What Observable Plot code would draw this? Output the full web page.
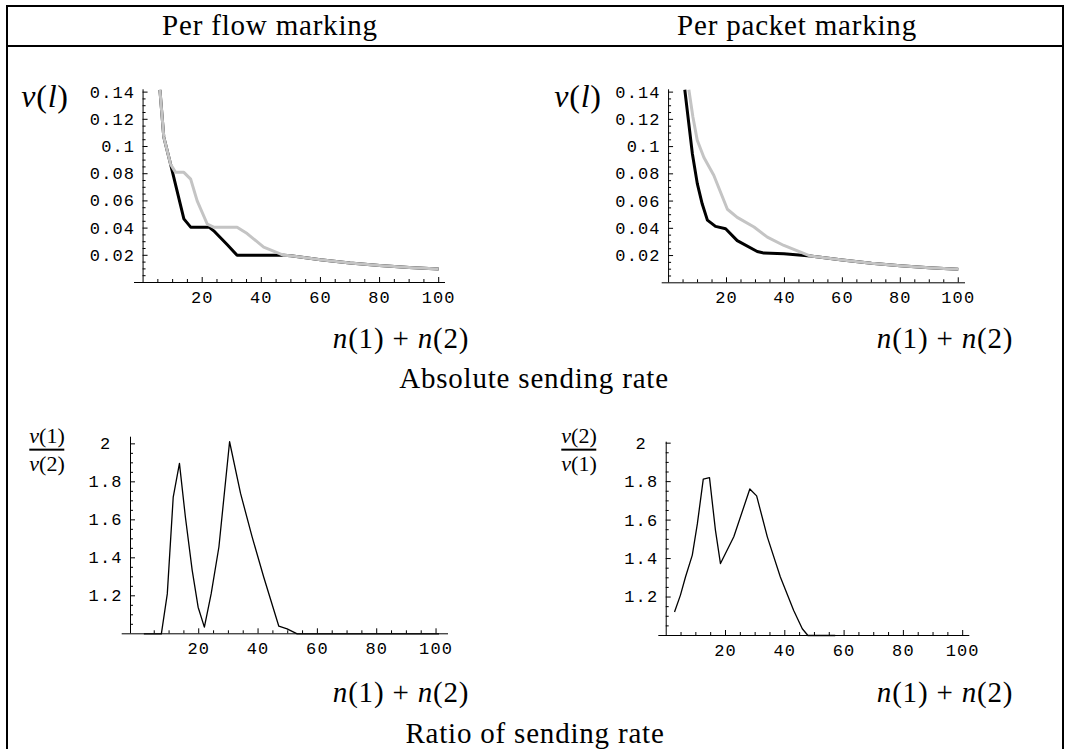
<!DOCTYPE html>
<html><head><meta charset="utf-8">
<script src="https://cdn.jsdelivr.net/npm/d3@7"></script>
<script src="https://cdn.jsdelivr.net/npm/@observablehq/plot@0.6"></script>
<style>
body{margin:0;background:#fff;}
#page{position:relative;width:1065px;height:749px;overflow:hidden;background:#fff;}
.box{position:absolute;left:6px;top:5px;width:1058px;height:800px;border:2px solid #000;box-sizing:border-box;}
.sep{position:absolute;left:6px;top:45px;width:1058px;height:2px;background:#000;}
.t{position:absolute;font-family:"Liberation Serif",serif;color:#000;white-space:nowrap;line-height:1;transform:translate(-50%,-50%);font-size:29px;letter-spacing:0.8px;}
.t i{font-style:italic;}
.frac{position:absolute;transform:translate(-50%,-50%);display:flex;flex-direction:column;align-items:center;font-family:"Liberation Serif",serif;font-size:22px;line-height:1.05;}
.frac .bar{width:100%;height:1.5px;background:#000;margin:2px 0 1px 0;}
.frac i{font-style:italic;}
.pw{position:absolute;}
</style></head>
<body><div id="page">
<div class="box"></div><div class="sep"></div>
<div id="p1" class="pw"></div><div id="p2" class="pw"></div><div id="p3" class="pw"></div><div id="p4" class="pw"></div>
<div class="t" style="left:270px;top:25px">Per flow marking</div>
<div class="t" style="left:797px;top:25px">Per packet marking</div>
<div class="t" style="left:45px;top:96px;font-size:32px"><i>ν</i>(<i>l</i>)</div>
<div class="t" style="left:578px;top:96px;font-size:32px"><i>ν</i>(<i>l</i>)</div>
<div class="t" style="left:401px;top:338px"><i>n</i>(1) + <i>n</i>(2)</div>
<div class="t" style="left:945px;top:338px"><i>n</i>(1) + <i>n</i>(2)</div>
<div class="t" style="left:534px;top:378px">Absolute sending rate</div>
<div class="frac" style="left:47px;top:449px"><div><i>ν</i>(1)</div><div class="bar"></div><div><i>ν</i>(2)</div></div>
<div class="frac" style="left:579px;top:449px"><div><i>ν</i>(2)</div><div class="bar"></div><div><i>ν</i>(1)</div></div>
<div class="t" style="left:401px;top:692px"><i>n</i>(1) + <i>n</i>(2)</div>
<div class="t" style="left:945px;top:692px"><i>n</i>(1) + <i>n</i>(2)</div>
<div class="t" style="left:535px;top:733px">Ratio of sending rate</div>
</div>
<script>
// ---- tick values and labels ----
const xMajor = [20, 40, 60, 80, 100];
const xMajorLabels = ["20", "40", "60", "80", "100"];
const xMinor = [5, 10, 15, 25, 30, 35, 45, 50, 55, 65, 70, 75, 85, 90, 95];
const absMajor = [0.02, 0.04, 0.06, 0.08, 0.1, 0.12, 0.14];
const absLabels = ["0.02", "0.04", "0.06", "0.08", "0.1", "0.12", "0.14"];
const absMinor = [0.005, 0.01, 0.015, 0.025, 0.03, 0.035, 0.045, 0.05, 0.055, 0.065, 0.07, 0.075, 0.085, 0.09, 0.095, 0.105, 0.11, 0.115, 0.125, 0.13, 0.135];
const ratioMajor = [1.2, 1.4, 1.6, 1.8, 2];
const ratioLabels = ["1.2", "1.4", "1.6", "1.8", "2\u00a0"];
const ratioMinor = [1.05, 1.1, 1.15, 1.25, 1.3, 1.35, 1.45, 1.5, 1.55, 1.65, 1.7, 1.75, 1.85, 1.9, 1.95];

// ---- Per flow marking: absolute sending rate ----
const flowBlackN = [5.7, 7.0, 9.3, 13.8, 16.1, 22.3, 23.9, 28.5, 31.8, 47.6, 50, 60, 70, 80, 90, 100];
const flowBlackV = [0.1417, 0.107, 0.087, 0.0468, 0.0407, 0.0407, 0.038, 0.0277, 0.0200, 0.0200, 0.0196, 0.0167, 0.0143, 0.0125, 0.0111, 0.0100];
const flowGrayN = [5.7, 7.0, 9.3, 11.0, 13.8, 16.1, 18.3, 21.7, 23.9, 31.8, 35.2, 40.8, 47.6, 50, 60, 70, 80, 90, 100];
const flowGrayV = [0.1417, 0.107, 0.087, 0.081, 0.081, 0.076, 0.060, 0.043, 0.0407, 0.0407, 0.036, 0.026, 0.0200, 0.0196, 0.0167, 0.0143, 0.0125, 0.0111, 0.0100];

// ---- Per packet marking: absolute sending rate ----
const pktBlackN = [5.6, 8.2, 9.9, 11.6, 13.4, 16.2, 19.7, 23.7, 30.6, 32.9, 39.8, 49, 60, 70, 80, 90, 100];
const pktBlackV = [0.1417, 0.095, 0.073, 0.058, 0.046, 0.0414, 0.0397, 0.031, 0.023, 0.0218, 0.0213, 0.0196, 0.0167, 0.0143, 0.0125, 0.0111, 0.0100];
const pktGrayN = [7.0, 8.4, 9.9, 12.2, 15.6, 20.3, 23.7, 29.5, 34.1, 39.8, 49, 60, 70, 80, 90, 100];
const pktGrayV = [0.1417, 0.1218, 0.1046, 0.092, 0.079, 0.054, 0.048, 0.041, 0.0335, 0.0274, 0.0196, 0.0167, 0.0143, 0.0125, 0.0111, 0.0100];

// ---- Ratio of sending rate ----
const flowRatioN = [1.5, 7.4, 9.4, 11.4, 13.5, 15.5, 17.8, 19.8, 21.9, 24.2, 26.8, 30.4, 34.1, 38.0, 41.9, 47.0, 49.8, 53.2, 101];
const flowRatioV = [1.0, 1.0, 1.21, 1.72, 1.897, 1.615, 1.334, 1.14, 1.035, 1.211, 1.457, 2.011, 1.739, 1.51, 1.299, 1.04, 1.026, 1.0, 1.0];
const pktRatioN = [2.8, 4.8, 6.5, 8.8, 10.5, 12.5, 14.6, 16.6, 18.3, 22.8, 28.2, 30.5, 34.1, 38.5, 43.0, 45.9, 47.8, 57];
const pktRatioV = [1.122, 1.21, 1.304, 1.418, 1.58, 1.813, 1.821, 1.548, 1.374, 1.513, 1.762, 1.726, 1.513, 1.304, 1.13, 1.035, 1.0, 1.0];

const pts = (N, V) => N.map((n, i) => ({n, v: V[i]}));

function panel(cfg) {
  const {id, L, T, W, H, xDom, xPx, yDom, yPx, yAxisAt, yMajor, yLabels, yMinor, lines} = cfg;
  const mL = xPx[0] - L, mR = L + W - xPx[1], mT = yPx[1] - T, mB = T + H - yPx[0];
  const fw = xPx[1] - xPx[0];
  const dxA = (yAxisAt - xDom[0]) / (xDom[1] - xDom[0]) * fw;
  const xl = new Map(xMajor.map((d, i) => [d, xMajorLabels[i]]));
  const yl = new Map(yMajor.map((d, i) => [d, yLabels[i]]));
  const marks = [
    Plot.ruleY([yDom[0]], {stroke: "#000", strokeWidth: 1}),
    Plot.ruleX([yAxisAt], {stroke: "#000", strokeWidth: 1}),
    Plot.axisX(xMajor, {tickSize: -5, tickFormat: () => "", label: null}),
    Plot.axisX(xMinor, {tickSize: -3, tickFormat: () => "", label: null}),
    Plot.axisX(xMajor, {tickSize: 0, tickPadding: 8, tickFormat: d => xl.get(d), label: null}),
    Plot.axisY(yMajor, {tickSize: -5, dx: dxA, tickFormat: () => "", label: null}),
    Plot.axisY(yMinor, {tickSize: -3, dx: dxA, tickFormat: () => "", label: null}),
    Plot.axisY(yMajor, {tickSize: 0, tickPadding: 8, dx: dxA, tickFormat: d => yl.get(d), label: null}),
    ...lines.map(l => Plot.line(pts(l.n, l.v), {x: "n", y: "v", stroke: l.color, strokeWidth: l.width, strokeLinejoin: "round", strokeLinecap: "butt"}))
  ];
  const svg = Plot.plot({
    width: W, height: H,
    marginLeft: mL, marginRight: mR, marginTop: mT, marginBottom: mB,
    x: {type: "linear", domain: xDom, label: null},
    y: {type: "linear", domain: yDom, label: null},
    style: "font-family:'Liberation Mono',monospace;font-size:17px;letter-spacing:1.1px;background:transparent;overflow:visible;",
    marks
  });
  const wrap = document.getElementById(id);
  wrap.style.left = L + "px";
  wrap.style.top = T + "px";
  wrap.appendChild(svg);
}

panel({id: "p1", L: 70, T: 70, W: 400, H: 260, xDom: [-2.9, 102.3], xPx: [134, 445], yDom: [0, 0.1417], yPx: [282, 89.3], yAxisAt: 0,
  yMajor: absMajor, yLabels: absLabels, yMinor: absMinor,
  lines: [{n: flowBlackN, v: flowBlackV, color: "#000", width: 3}, {n: flowGrayN, v: flowGrayV, color: "#c4c4c4", width: 3}]});
panel({id: "p2", L: 600, T: 70, W: 400, H: 260, xDom: [-2.2, 102.5], xPx: [661.7, 965], yDom: [0, 0.1417], yPx: [282.3, 89.3], yAxisAt: 0,
  yMajor: absMajor, yLabels: absLabels, yMinor: absMinor,
  lines: [{n: pktBlackN, v: pktBlackV, color: "#000", width: 3}, {n: pktGrayN, v: pktGrayV, color: "#c4c4c4", width: 3}]});
panel({id: "p3", L: 70, T: 420, W: 400, H: 260, xDom: [-5.8, 104.2], xPx: [121.7, 448], yDom: [1.0, 2.035], yPx: [633.3, 436.7], yAxisAt: -3,
  yMajor: ratioMajor, yLabels: ratioLabels, yMinor: ratioMinor,
  lines: [{n: flowRatioN, v: flowRatioV, color: "#000", width: 1.3}]});
panel({id: "p4", L: 600, T: 420, W: 400, H: 260, xDom: [-2.5, 102.4], xPx: [658.3, 969.3], yDom: [1.0, 2.005], yPx: [635, 441.7], yAxisAt: 0,
  yMajor: ratioMajor, yLabels: ratioLabels, yMinor: ratioMinor,
  lines: [{n: pktRatioN, v: pktRatioV, color: "#000", width: 1.3}]});
</script>
</body></html>
